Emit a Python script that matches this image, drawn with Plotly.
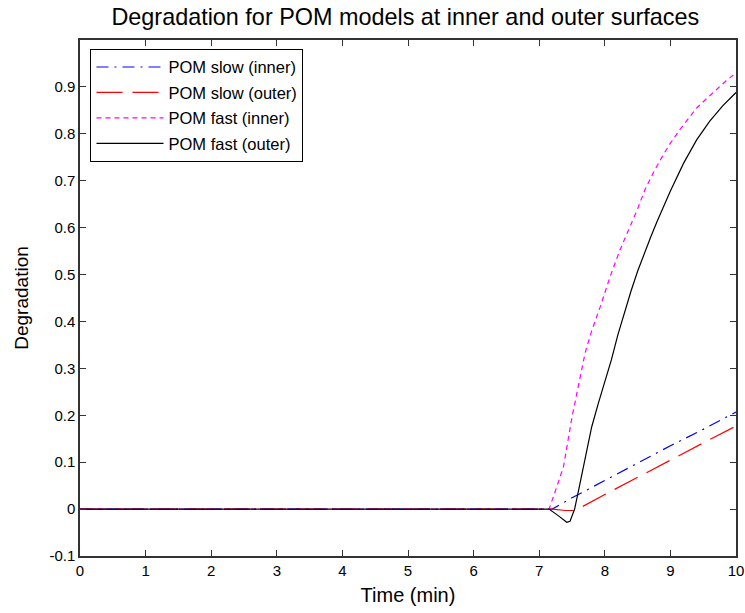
import plotly.graph_objects as go

# Data
t_slow_in = [0, 7.2, 7.5, 8.0, 8.5, 9.0, 9.5, 10.0]
v_slow_in = [0, 0.0, 0.024, 0.061, 0.098, 0.135, 0.170, 0.207]

t_slow_out = [0, 7.2, 7.4, 7.55, 8.0, 8.5, 9.0, 9.5, 10.0]
v_slow_out = [0, 0.0, -0.003, -0.003, 0.031, 0.068, 0.105, 0.141, 0.177]

t_fast_in = [0, 7.15, 7.24, 7.37, 7.5, 7.62, 7.70, 7.8, 7.93, 8.08, 8.23, 8.38, 8.5, 8.61,
             8.75, 8.89, 9.0, 9.15, 9.3, 9.4, 9.55, 9.7, 9.85, 10.0]
v_fast_in = [0, 0.0, 0.036, 0.09, 0.196, 0.275, 0.333, 0.38, 0.431, 0.495, 0.552, 0.601, 0.64, 0.68,
             0.72, 0.755, 0.78, 0.81, 0.838, 0.855, 0.875, 0.895, 0.913, 0.93]

t_fast_out = [0, 7.15, 7.3, 7.42, 7.47, 7.54, 7.6, 7.7, 7.8, 7.9, 8.0, 8.1, 8.2, 8.3, 8.4, 8.5,
              8.6, 8.7, 8.8, 8.9, 9.0, 9.2, 9.4, 9.6, 9.8, 10.0]
v_fast_out = [0, 0.0, -0.015, -0.028, -0.026, 0.0, 0.04, 0.11, 0.175, 0.225, 0.27, 0.318, 0.372, 0.42,
              0.465, 0.507, 0.545, 0.58, 0.614, 0.646, 0.678, 0.737, 0.787, 0.827, 0.86, 0.888]

x_ticks = list(range(0, 11))
y_ticks = [-0.1, 0, 0.1, 0.2, 0.3, 0.4, 0.5, 0.6, 0.7, 0.8, 0.9]
y_tick_labels = ["-0.1", "0", "0.1", "0.2", "0.3", "0.4", "0.5", "0.6", "0.7", "0.8", "0.9"]

series = [
    ("POM slow (inner)", t_slow_in, v_slow_in, "#0000ff", "12px,6px,2px,6px"),
    ("POM slow (outer)", t_slow_out, v_slow_out, "#ff0000", "26px,10px"),
    ("POM fast (inner)", t_fast_in, v_fast_in, "#ff00ff", "5px,4px"),
    ("POM fast (outer)", t_fast_out, v_fast_out, "#000000", "solid"),
]

fig = go.Figure()
for i, (name, xs, ys, col, dash) in enumerate(series):
    fig.add_trace(go.Scatter(
        x=xs, y=ys, mode="lines", name=name, legendgroup=f"g{i}",
        line=dict(color=col, dash=dash, width=1.2),
    ))

font_family = "Liberation Sans, Arial, sans-serif"
axis_common = dict(
    showline=True, linecolor="#333333", linewidth=1.5, mirror="ticks",
    ticks="inside", ticklen=6, tickcolor="#333333", tickwidth=1,
    showgrid=False, zeroline=False, automargin=False,
    tickfont=dict(family=font_family, size=15, color="#000000"),
)

fig.update_layout(
    width=745, height=613,
    margin=dict(l=80, r=9, t=40, b=57),
    paper_bgcolor="white", plot_bgcolor="white",
    title=dict(text="Degradation for POM models at inner and outer surfaces",
               x=0.544, xanchor="center", y=0.972, yanchor="middle",
               font=dict(family=font_family, size=23.4, color="#000000")),
    xaxis=dict(range=[0, 10], tickvals=x_ticks,
               title=dict(text="Time (min)", standoff=10,
                          font=dict(family=font_family, size=20, color="#000000")),
               **axis_common),
    yaxis=dict(range=[-0.1, 1.0], tickvals=y_ticks, ticktext=y_tick_labels,
               title=dict(text="Degradation", standoff=16,
                          font=dict(family=font_family, size=19, color="#000000")),
               **axis_common),
    legend=dict(x=0.016, y=0.983, xanchor="left", yanchor="top",
                bgcolor="white", bordercolor="#000000", borderwidth=1,
                font=dict(family=font_family, size=16.5, color="#000000"),
                traceorder="grouped", tracegroupgap=1, itemwidth=67),
    showlegend=True,
)

fig.write_html("out.html")
